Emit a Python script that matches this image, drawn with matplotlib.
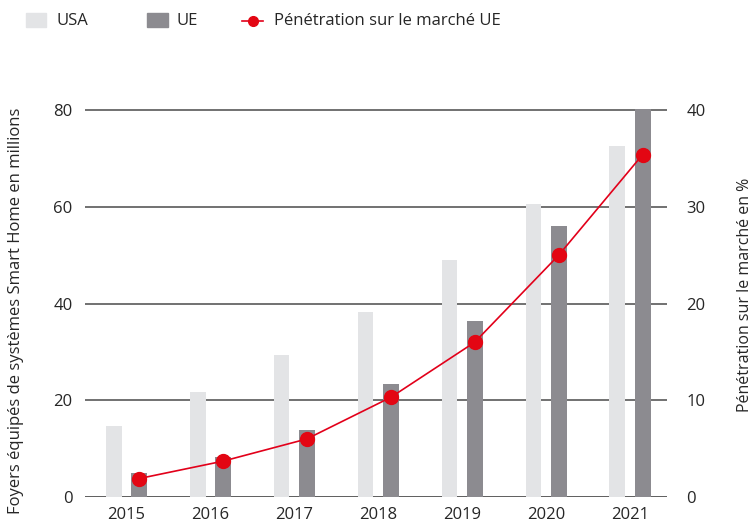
import matplotlib
matplotlib.use("Agg")
import matplotlib.pyplot as plt
from matplotlib.patches import Rectangle
from matplotlib.lines import Line2D
import numpy as np

years = ["2015", "2016", "2017", "2018", "2019", "2020", "2021"]
usa = [14.7, 21.7, 29.3, 38.2, 49.0, 60.5, 72.5]
ue = [5.0, 8.3, 13.8, 23.3, 36.4, 56.0, 80.2]
penetration = [1.9, 3.7, 6.0, 10.3, 16.0, 25.0, 35.4]
left_ticks = [0, 20, 40, 60, 80]
right_ticks = [0, 10, 20, 30, 40]

C_USA = "#e3e4e6"
C_UE = "#8c8b90"
C_RED = "#e2001a"
C_TXT = "#262626"

plt.rcParams['font.family'] = ['Open Sans', 'DejaVu Sans']
FS = 12

fig = plt.figure(figsize=(7.52, 5.26), dpi=100)
ax = fig.add_axes([0.113, 0.0551, 0.774, 0.754])
ax2 = ax.twinx()

x = np.arange(len(years))
w = 0.19
ax.bar(x - 0.15, usa, w, color=C_USA, zorder=2)
ax.bar(x + 0.15, ue, w, color=C_UE, zorder=2)

ax.set_xlim(-0.49, 6.44)
ax.set_ylim(0, 82)
ax2.set_ylim(0, 41)

for t in left_ticks:
    ax.axhline(t, color="#4a4a4a" if t else "#333333", lw=1.1, zorder=1)

ax2.plot(x + 0.15, penetration, color=C_RED, lw=1.2, marker="o", ms=10,
         markerfacecolor="#e30613", markeredgecolor="#e30613", zorder=5)

ax.set_yticks(left_ticks)
ax2.set_yticks(right_ticks)
ax.set_xticks(x)
ax.set_xticklabels(years)
for a in (ax, ax2):
    for s in a.spines.values():
        s.set_visible(False)
    a.tick_params(length=0, labelsize=FS, colors=C_TXT)
ax.tick_params(axis='y', pad=9)
ax2.tick_params(axis='y', pad=14)
ax.tick_params(axis='x', pad=7)

ax.set_zorder(1)
ax2.set_zorder(2)
ax2.patch.set_visible(False)

fig.text(0.021, 0.41, "Foyers équipés de systèmes Smart Home en millions",
         rotation=90, ha="center", va="center", fontsize=FS, color=C_TXT)
fig.text(0.991, 0.44, "Pénétration sur le marché en %",
         rotation=90, ha="center", va="center", fontsize=11.5, color=C_TXT)

# legend
H, W = 526.0, 752.0
def fx(px): return px / W
def fy(py): return 1 - py / H
fig.patches.append(Rectangle((fx(26), fy(27)), fx(20), 14 / H, color=C_USA, transform=fig.transFigure))
fig.text(fx(56), fy(21), "USA", fontsize=FS, va="center", color=C_TXT)
fig.patches.append(Rectangle((fx(147), fy(27)), fx(21), 14 / H, color=C_UE, transform=fig.transFigure))
fig.text(fx(176), fy(21), "UE", fontsize=FS, va="center", color=C_TXT)
fig.lines.append(Line2D([fx(242), fx(263)], [fy(21), fy(21)], color=C_RED, lw=1.2,
                        transform=fig.transFigure))
fig.lines.append(Line2D([fx(252.5)], [fy(21)], color="#e30613", marker="o", ms=7,
                        transform=fig.transFigure))
fig.text(fx(274), fy(21), "Pénétration sur le marché UE", fontsize=FS, va="center", color=C_TXT)

fig.savefig("out.png", dpi=100)
